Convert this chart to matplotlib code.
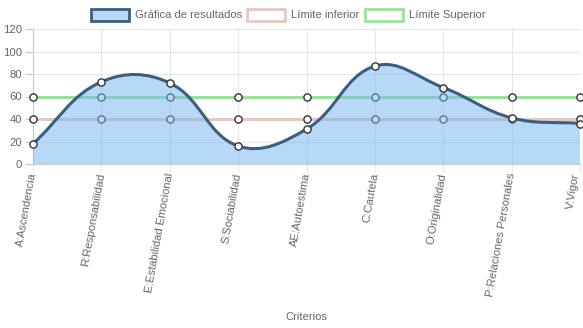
import numpy as np
import matplotlib
matplotlib.use('Agg')
import matplotlib.pyplot as plt
from matplotlib.path import Path
from matplotlib.patches import PathPatch, Rectangle
from matplotlib.transforms import ScaledTranslation

plt.rcParams['font.family'] = ['Liberation Sans', 'DejaVu Sans']

criterios = ['A:Ascendencia', 'R:Responsabilidad', 'E:Estabilidad Emocional',
             'S:Sociabilidad', 'AE:Autoestima', 'C:Cautela', 'O:Originalidad',
             'P:Relaciones Personales', 'V:Vigor']
resultados = [18, 73, 72, 16, 31, 87, 68, 41, 36]
limite_inferior = [40, 40, 40, 40, 40, 40, 40, 40, 40]
limite_superior = [60, 60, 60, 60, 60, 60, 60, 60, 60]
y_ticks = [0, 20, 40, 60, 80, 100, 120]

W, H = 583, 328
LEFT, RIGHT, TOP, BOTTOM = 33, 580, 29, 164
FS = 8.1

TXT = '#666666'
GRID = '#e6e6e6'
LINE_RES = '#3d5f7f'
FILL_RES = (0.47, 0.71, 0.94, 0.52)
C_INF = '#e6c8bd'
C_SUP = '#90e890'


def spline_path(ax, xs, ys, tension=0.4):
    # bezier control points the same way chart.js builds them (pixel distances)
    pts = np.column_stack([xs, ys]).astype(float)
    pix = ax.transData.transform(pts)
    n = len(pts)
    prev_cp, next_cp = [], []
    for i in range(n):
        p0 = pts[max(i - 1, 0)]
        p1 = pts[i]
        p2 = pts[min(i + 1, n - 1)]
        q0, q1, q2 = pix[max(i - 1, 0)], pix[i], pix[min(i + 1, n - 1)]
        d01 = np.hypot(*(q1 - q0))
        d12 = np.hypot(*(q2 - q1))
        tot = d01 + d12
        s01 = d01 / tot if tot else 0
        s12 = d12 / tot if tot else 0
        prev_cp.append(p1 - tension * s01 * (p2 - p0))
        next_cp.append(p1 + tension * s12 * (p2 - p0))
    verts = [pts[0]]
    codes = [Path.MOVETO]
    for i in range(n - 1):
        verts += [next_cp[i], prev_cp[i + 1], pts[i + 1]]
        codes += [Path.CURVE4] * 3
    return verts, codes


fig = plt.figure(figsize=(W / 100, H / 100), dpi=100)
ax = fig.add_axes([LEFT / W, 1 - BOTTOM / H, (RIGHT - LEFT) / W, (BOTTOM - TOP) / H])
x = np.arange(len(criterios))
ax.set_xlim(0, len(criterios) - 1)
ax.set_ylim(0, 120)

# limit lines sit under the results fill
for vals, col in [(limite_inferior, C_INF), (limite_superior, C_SUP)]:
    ax.plot(x, vals, color=col, lw=2.2, zorder=2, solid_capstyle='butt')
    ax.plot(x, vals, ls='none', marker='o', ms=5.2, mfc='white', mec='#333333',
            mew=1.0, zorder=3, clip_on=False)

verts, codes = spline_path(ax, x, resultados)
fill_verts = verts + [(x[-1], 0), (x[0], 0), (x[0], 0)]
fill_codes = codes + [Path.LINETO, Path.LINETO, Path.CLOSEPOLY]
ax.add_patch(PathPatch(Path(fill_verts, fill_codes), facecolor=FILL_RES,
                       edgecolor='none', zorder=4))
ax.add_patch(PathPatch(Path(verts, codes), facecolor='none', edgecolor=LINE_RES,
                       lw=2.2, zorder=5))
ax.plot(x, resultados, ls='none', marker='o', ms=5.2, mfc='white', mec='#333333',
        mew=1.0, zorder=6, clip_on=False)

ax.set_yticks(y_ticks)
ax.set_xticks(x)
ax.set_xticklabels([])
# rotated category labels; the last one is nudged so it stays on the canvas
for i, name in enumerate(criterios):
    dx = -4 if i == len(criterios) - 1 else 0
    tr = ax.get_xaxis_transform() + ScaledTranslation(dx / 100, -9 / 100,
                                                      fig.dpi_scale_trans)
    ax.text(x[i], 0, name, transform=tr, rotation=80, rotation_mode='anchor',
            ha='right', va='center', color=TXT, fontsize=FS, clip_on=False)
ax.grid(True, color=GRID, lw=0.8, zorder=0)
ax.set_axisbelow(True)
ax.tick_params(axis='both', colors=TXT, labelsize=FS, length=6, width=0.8)
ax.tick_params(axis='x', color=GRID, pad=2)
ax.tick_params(axis='y', color='#c8c8c8', pad=2)
for s in ['top', 'right']:
    ax.spines[s].set_visible(False)
ax.spines['left'].set_color('#c8c8c8')
ax.spines['bottom'].set_color('#c8c8c8')
ax.spines['left'].set_linewidth(0.8)
ax.spines['bottom'].set_linewidth(0.8)

fig.text((LEFT + RIGHT) / 2 / W, 1 - 317 / H, 'Criterios', ha='center',
         va='center', color=TXT, fontsize=FS)

# legend drawn in figure pixels
legend = [('Gráfica de resultados', FILL_RES, LINE_RES, 91),
          ('Límite inferior', 'white', C_INF, 247),
          ('Límite Superior', 'white', C_SUP, 365)]
for label, fc, ec, x0 in legend:
    fig.patches.append(Rectangle((x0 / W, 1 - 21 / H), 38 / W, 12 / H,
                                 transform=fig.transFigure, facecolor=fc,
                                 edgecolor=ec, lw=2))
    fig.text((x0 + 44) / W, 1 - 15 / H, label, ha='left', va='center',
             color=TXT, fontsize=FS)

fig.savefig('out.png', dpi=100)
